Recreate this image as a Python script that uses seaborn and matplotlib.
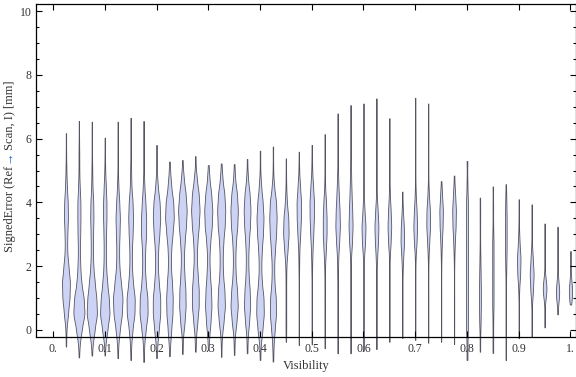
import numpy as np
import pandas as pd
import matplotlib
matplotlib.use("Agg")
import matplotlib.pyplot as plt
from matplotlib.ticker import MultipleLocator
import seaborn as sns

# ---------------- data ----------------
visibility = [0.025, 0.05, 0.075, 0.1, 0.125, 0.15, 0.175, 0.2, 0.225, 0.25,
              0.275, 0.3, 0.325, 0.35, 0.375, 0.4, 0.425, 0.45, 0.475, 0.5,
              0.525, 0.55, 0.575, 0.6, 0.625, 0.65, 0.675, 0.7, 0.725, 0.75,
              0.775, 0.8, 0.825, 0.85, 0.875, 0.9, 0.925, 0.95, 0.975, 1.0]

# representative signed-error values [mm] per visibility bin, with their counts
sample_values = [
    [-0.52, 0, 0.5, 1.0, 1.5, 2.0, 2.5, 3.0, 3.5, 4.0, 4.5, 5.0, 5.55, 6.17],
    [-0.86, -0.45, 0, 0.5, 1.0, 1.5, 2.0, 2.5, 3.0, 3.5, 4.0, 4.5, 5.0, 5.5, 6.0, 6.55],
    [-0.8, -0.4, 0, 0.5, 1.0, 1.5, 2.0, 2.5, 3.0, 3.5, 4.0, 4.5, 5.0, 5.5, 6.0, 6.53],
    [-0.8, -0.4, 0, 0.5, 1.0, 1.5, 2.0, 2.5, 3.0, 3.5, 4.0, 4.5, 5.0, 5.5, 6.03],
    [-0.88, -0.45, 0, 0.5, 1.0, 1.5, 2.0, 2.5, 3.0, 3.5, 4.0, 4.5, 5.0, 5.5, 6.0, 6.53],
    [-0.94, -0.45, 0, 0.5, 1.0, 1.5, 2.0, 2.5, 3.0, 3.5, 4.0, 4.5, 5.0, 5.5, 6.05, 6.65],
    [-1.0, -0.5, 0, 0.5, 1.0, 1.5, 2.0, 2.5, 3.0, 3.5, 4.0, 4.5, 5.0, 5.5, 6.0, 6.55],
    [-0.88, -0.45, 0, 0.5, 1.0, 1.5, 2.0, 2.5, 3.0, 3.5, 4.0, 4.5, 5.0, 5.4, 5.8],
    [-0.82, -0.4, 0, 0.5, 1.0, 1.5, 2.0, 2.5, 3.0, 3.5, 4.0, 4.5, 4.9, 5.28],
    [-0.75, -0.25, 0.25, 0.75, 1.25, 1.75, 2.25, 2.75, 3.25, 3.75, 4.25, 4.75, 5.33],
    [-0.68, -0.25, 0.25, 0.75, 1.25, 1.75, 2.25, 2.75, 3.25, 3.75, 4.25, 4.75, 5.45],
    [-0.63, -0.2, 0.25, 0.75, 1.25, 1.75, 2.25, 2.75, 3.25, 3.75, 4.25, 4.75, 5.17],
    [-0.84, -0.25, 0.25, 0.75, 1.25, 1.75, 2.25, 2.75, 3.25, 3.75, 4.25, 4.75, 5.22],
    [-0.78, -0.25, 0.25, 0.75, 1.25, 1.75, 2.25, 2.75, 3.25, 3.75, 4.25, 4.75, 5.2],
    [-0.73, -0.25, 0.25, 0.75, 1.25, 1.75, 2.25, 2.75, 3.25, 3.75, 4.25, 4.75, 5.36],
    [-0.94, -0.45, 0, 0.5, 1.0, 1.5, 2.0, 2.5, 3.0, 3.5, 4.0, 4.5, 5.05, 5.62],
    [-0.99, -0.5, 0, 0.5, 1.0, 1.5, 2.0, 2.5, 3.0, 3.5, 4.0, 4.5, 5.1, 5.75],
    [-0.37, 0.05, 0.5, 1.0, 1.5, 2.0, 2.5, 3.0, 3.5, 4.0, 4.5, 4.95, 5.38],
    [-0.47, 0, 0.5, 1.0, 1.5, 2.0, 2.5, 3.0, 3.5, 4.0, 4.5, 5.05, 5.59],
    [-0.45, 0, 0.5, 1.0, 1.5, 2.0, 2.5, 3.0, 3.5, 4.0, 4.5, 5.0, 5.4, 5.8],
    [-0.57, 0, 0.5, 1.0, 1.5, 2.0, 2.5, 3.0, 3.5, 4.0, 4.5, 5.0, 5.55, 6.14],
    [-0.73, -0.25, 0.25, 0.75, 1.25, 1.75, 2.25, 2.75, 3.25, 3.75, 4.25, 4.75, 5.25, 5.75, 6.25, 6.79],
    [-0.73, -0.25, 0.25, 0.75, 1.25, 1.75, 2.25, 2.75, 3.25, 3.75, 4.25, 4.75, 5.25, 5.75, 6.25, 6.65, 7.05],
    [-0.65, -0.2, 0.25, 0.75, 1.25, 1.75, 2.25, 2.75, 3.25, 3.75, 4.25, 4.75, 5.25, 5.75, 6.25, 6.7, 7.1],
    [-0.6, -0.2, 0.25, 0.75, 1.25, 1.75, 2.25, 2.75, 3.25, 3.75, 4.25, 4.75, 5.25, 5.75, 6.25, 6.75, 7.26],
    [-0.37, 0.15, 0.65, 1.15, 1.65, 2.25, 2.75, 3.25, 3.75, 4.25, 4.75, 5.25, 5.75, 6.2, 6.64],
    [-0.25, 0.25, 0.75, 1.25, 1.75, 2.25, 2.75, 3.25, 3.75, 4.34],
    [-0.31, 0.2, 0.7, 1.2, 1.7, 2.25, 2.75, 3.25, 3.75, 4.25, 4.75, 5.25, 5.75, 6.25, 6.75, 7.28],
    [-0.4, 0.1, 0.6, 1.1, 1.65, 2.25, 2.75, 3.25, 3.75, 4.25, 4.75, 5.25, 5.75, 6.2, 6.65, 7.1],
    [-0.37, 0.15, 0.65, 1.15, 1.7, 2.25, 2.75, 3.25, 3.75, 4.25, 4.67],
    [-0.44, 0.1, 0.6, 1.1, 1.65, 2.25, 2.75, 3.25, 3.75, 4.25, 4.84],
    [-0.94, -0.45, 0.05, 0.55, 1.05, 1.55, 2.05, 2.55, 3.05, 3.55, 4.05, 4.6, 5.3],
    [-0.68, -0.25, 0.25, 0.75, 1.25, 1.75, 2.25, 2.75, 3.25, 3.7, 4.15],
    [-0.72, -0.25, 0.25, 0.75, 1.25, 1.75, 2.25, 2.75, 3.25, 3.85, 4.5],
    [-0.94, -0.45, 0.05, 0.55, 1.05, 1.55, 2.05, 2.55, 3.05, 3.55, 4.05, 4.57],
    [-0.26, 0.25, 0.75, 1.25, 1.75, 2.25, 2.75, 3.25, 3.7, 4.1],
    [-0.21, 0.25, 0.75, 1.25, 1.75, 2.25, 2.75, 3.3, 3.94],
    [0.08, 0.5, 1.0, 1.3, 1.6, 2.0, 2.45, 2.9, 3.34],
    [0.49, 0.85, 1.15, 1.45, 1.8, 2.2, 2.6, 3.24],
    [0.8, 1.05, 1.25, 1.5, 1.8, 2.1, 2.48],
]
sample_counts = [
    [1, 2, 9, 16, 18, 11, 5, 6, 9, 8, 4, 2, 1, 1],
    [1, 3, 14, 30, 25, 12, 7, 5, 7, 8, 8, 4, 2, 2, 1, 1],
    [1, 3, 13, 26, 22, 14, 7, 5, 6, 8, 7, 3, 2, 1, 1, 1],
    [1, 2, 12, 23, 19, 11, 6, 5, 6, 8, 8, 5, 2, 1, 1],
    [1, 2, 9, 19, 22, 14, 7, 6, 8, 10, 7, 3, 1, 1, 1, 1],
    [1, 2, 7, 16, 17, 9, 5, 5, 8, 10, 8, 3, 2, 1, 1, 1],
    [1, 2, 8, 16, 15, 8, 5, 6, 10, 10, 7, 3, 1, 1, 1, 1],
    [1, 2, 7, 12, 12, 7, 4, 5, 9, 12, 10, 4, 1, 1, 1],
    [1, 2, 6, 11, 12, 9, 5, 6, 11, 16, 14, 6, 2, 1],
    [1, 2, 8, 12, 11, 7, 5, 8, 13, 16, 12, 5, 1],
    [1, 2, 7, 12, 12, 8, 5, 7, 12, 15, 12, 5, 1],
    [1, 3, 8, 12, 10, 6, 4, 7, 13, 15, 11, 4, 1],
    [1, 2, 8, 13, 11, 6, 5, 7, 12, 14, 11, 4, 1],
    [1, 2, 8, 13, 10, 5, 4, 6, 11, 13, 10, 3, 1],
    [1, 2, 7, 11, 9, 5, 4, 6, 10, 12, 9, 3, 1],
    [1, 2, 8, 13, 12, 6, 4, 6, 10, 12, 9, 4, 1, 1],
    [1, 2, 6, 11, 10, 5, 4, 7, 11, 13, 11, 4, 1, 1],
    [1, 2, 2, 2, 2, 3, 10, 17, 15, 6, 2, 1, 1],
    [1, 1, 1, 1, 1, 2, 3, 8, 12, 13, 7, 2, 1],
    [1, 1, 1, 1, 1, 2, 4, 8, 11, 12, 7, 2, 1, 1],
    [1, 1, 1, 1, 1, 2, 6, 10, 10, 7, 2, 1, 1, 1],
    [1, 1, 1, 1, 1, 2, 3, 8, 12, 10, 6, 3, 1, 1, 1, 1],
    [1, 1, 1, 1, 1, 1, 2, 7, 10, 8, 5, 3, 2, 1, 1, 1, 1],
    [1, 1, 1, 1, 1, 1, 3, 10, 13, 6, 2, 1, 1, 1, 1, 1, 1],
    [1, 1, 1, 1, 1, 1, 4, 9, 12, 7, 2, 1, 1, 1, 1, 1, 1],
    [1, 1, 1, 1, 1, 2, 8, 12, 8, 3, 1, 1, 1, 1, 1],
    [1, 1, 1, 1, 2, 6, 13, 11, 4, 1],
    [1, 1, 1, 1, 1, 2, 8, 12, 8, 3, 1, 1, 1, 1, 1, 1],
    [1, 1, 1, 1, 1, 2, 6, 11, 10, 4, 1, 1, 1, 1, 1, 1],
    [1, 1, 1, 1, 1, 2, 5, 10, 12, 6, 1],
    [1, 1, 1, 1, 1, 2, 5, 10, 12, 7, 2],
    [1, 1, 2, 2, 2, 2, 2, 2, 2, 2, 2, 1, 1],
    [1, 1, 3, 4, 4, 3, 2, 1, 1, 1, 1],
    [1, 1, 1, 2, 2, 2, 2, 2, 1, 1, 1],
    [1, 1, 1, 1, 1, 1, 2, 3, 3, 3, 2, 1],
    [1, 1, 1, 3, 11, 14, 6, 2, 1, 1],
    [1, 1, 2, 11, 17, 9, 2, 1, 1],
    [1, 1, 6, 25, 6, 1, 1, 1, 1],
    [1, 4, 20, 8, 2, 1, 1, 1],
    [2, 12, 14, 6, 2, 1, 1],
]

xtick_values = [0.0, 0.1, 0.2, 0.3, 0.4, 0.5, 0.6, 0.7, 0.8, 0.9, 1.0]
xtick_labels = ["0.", "0.1", "0.2", "0.3", "0.4", "0.5", "0.6", "0.7", "0.8", "0.9", "1."]
ytick_values = [0, 2, 4, 6, 8, 10]
ytick_labels = ["0", "2", "4", "6", "8", "10"]

# ---------------- long-form table ----------------
rows_x, rows_y = [], []
for vis, vals, cnts in zip(visibility, sample_values, sample_counts):
    obs = np.repeat(vals, cnts)
    rows_x.extend([vis] * len(obs))
    rows_y.extend(obs.tolist())
df = pd.DataFrame({"Visibility": rows_x, "SignedError": rows_y})

# ---------------- style ----------------
FILL = "#cdd3f5"
EDGE = "#555562"
TEXT = "#333333"
BLUE = "#2a64d0"
FS = 8.5
plt.rcParams["font.family"] = ["Liberation Serif", "DejaVu Serif"]

BW = 0.25  # kernel bandwidth in mm


def fixed_bw(kde):
    return BW / np.std(kde.dataset[0], ddof=1)


fig = plt.figure(figsize=(5.76, 3.77), dpi=100)
ax = fig.add_axes([36 / 576, 40 / 377, 539.5 / 576, 333 / 377])

sns.violinplot(data=df, x="Visibility", y="SignedError", orient="x",
               native_scale=True, density_norm="count", cut=0,
               bw_method=fixed_bw, inner=None, width=0.85,
               color=FILL, saturation=1, linecolor=EDGE, linewidth=0.6,
               ax=ax)

for coll in ax.collections:
    coll.set_clip_on(False)

ax.set_xlim(-0.0329, 1.0097)
ax.set_ylim(-0.22, 10.22)

ax.set_xticks(xtick_values)
ax.set_xticklabels(xtick_labels)
ax.set_yticks(ytick_values)
ax.set_yticklabels(ytick_labels)
ax.yaxis.set_minor_locator(MultipleLocator(0.5))

ax.tick_params(which="both", direction="in", top=True, right=True,
               colors="black", labelcolor=TEXT, labelsize=FS, width=0.8)
ax.tick_params(which="major", length=4.0)
ax.tick_params(which="minor", length=2.2)
ax.tick_params(axis="x", pad=4)
ax.tick_params(axis="y", pad=3)
for s in ax.spines.values():
    s.set_linewidth(0.9)
    s.set_color("black")

ax.set_xlabel("Visibility", fontsize=FS + 0.5, color=TEXT, labelpad=4)
ax.set_ylabel("")

# y label with a blue arrow, assembled from three pieces
fig.canvas.draw()
renderer = fig.canvas.get_renderer()
parts = [("SignedError (Ref ", TEXT), ("\u2192", BLUE), ("Scan, I) [mm]", TEXT)]
widths = []
for s, c in parts:
    t = fig.text(0, 0, s, fontsize=FS + 0.5)
    widths.append(t.get_window_extent(renderer).width)
    t.remove()
total = sum(widths)
H = 377.0
center_px = 377 - 166.5
ypos = center_px - total / 2
for (s, c), w in zip(parts, widths):
    fig.text(12.5 / 576, ypos / H, s, rotation=90, rotation_mode="anchor",
             ha="left", va="baseline", color=c, fontsize=FS + 0.5)
    ypos += w

fig.savefig("out.png", dpi=100)
